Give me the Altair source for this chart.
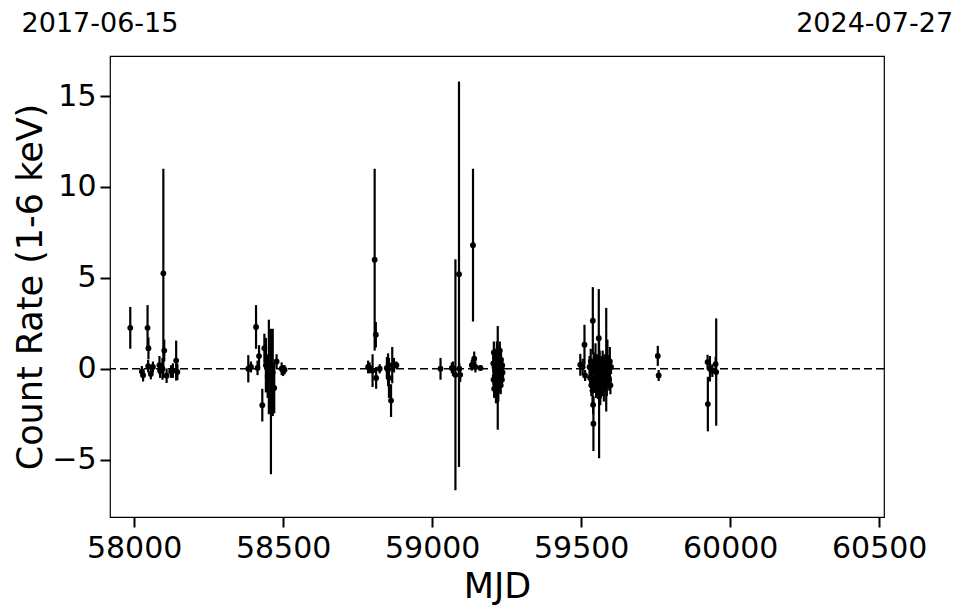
import altair as alt
import pandas as pd

# ---- data (MJD, count rate, 1-sigma error) ----
mjd = [
    57987, 58026, 58030, 58045, 58048, 58047, 58056, 58063, 58085, 58087, 58095,
    58098, 58101, 58109, 58124, 58130, 58141, 58145,
    58383, 58392, 58409, 58419, 58414, 58430, 58437, 58442, 58448, 58452, 58459,
    58465, 58470, 58478, 58495, 58500, 58505,
    58785, 58790, 58800, 58807, 58811, 58812, 58824, 58848, 58852, 58855, 58862,
    58866, 58872, 58880,
    59028, 59066, 59070, 59078, 59090, 59091, 59094, 59133, 59137, 59141, 59145,
    59162,
    59205, 59206, 59207, 59208, 59209, 59210, 59211, 59212, 59213, 59214, 59215,
    59216, 59217, 59218, 59219, 59220, 59221, 59222, 59223, 59224, 59225, 59226,
    59227, 59228, 59229, 59230, 59231, 59232, 59233, 59234, 59235, 59236,
    59497, 59505, 59511, 59513, 59539, 59540, 59541, 59559, 59560, 59584,
    59528, 59530, 59532, 59534, 59536, 59538, 59542, 59544, 59546, 59548, 59550,
    59552, 59554, 59556, 59558, 59562, 59564, 59566, 59568, 59570, 59572, 59574,
    59576, 59578, 59580, 59582, 59586, 59588, 59590, 59592, 59594, 59596, 59598,
    59600,
    59757, 59760, 59924, 59925, 59932, 59940, 59951, 59953,
]
rate = [
    2.25, -0.15, -0.35, 2.25, 1.13, 0.15, -0.28, 0.10, 0.20, -0.10, 0.00,
    5.25, 1.00, -0.38, -0.15, -0.10, 0.45, -0.17,
    0.00, 0.10, 2.30, 0.70, 0.05, -2.00, 1.13, 0.20, -0.40, 0.10, -1.80,
    -0.20, -1.05, 0.40, 0.00, -0.10, -0.05,
    0.10, 0.05, -0.10, 6.00, 1.87, -0.50, 0.00, 0.05, -0.05, -0.50, -1.75,
    0.20, 0.20, 0.20,
    0.00, 0.05, 0.00, -0.33, 5.20, 0.00, -0.33, 0.20, 6.80, 0.55, 0.10,
    0.05,
    0.3, -0.6, 0.9, -1.1, 0.1, -0.4, 0.6, -0.8, 0.2, -1.4, 0.5,
    -0.2, 0.8, -0.9, 0.0, -0.5, 0.4, -1.2, 0.7, -0.3, 0.2, -0.7,
    1.0, -0.1, 0.3, -0.9, 0.5, -0.4, 0.1, -0.6, 0.2, -0.2,
    0.22, 0.10, 1.32, -0.37, 2.64, -1.98, -3.02, 1.68, -1.52, 0.50,
    0.1, -0.5, 0.4, -0.9, 0.0, -1.2, 0.3, -0.6, -0.2, 0.6, -1.0,
    -0.3, 0.2, -0.8, -0.1, 0.4, -1.3, -0.4, 0.1, -0.7, 0.5, -0.2,
    -1.1, 0.3, -0.5, 0.0, -0.8, 0.6, -0.3, 0.2, -0.6, 0.4, -0.9,
    0.1,
    0.71, -0.37, 0.37, -1.94, 0.00, -0.10, 0.26, -0.18,
]
err = [
    1.15, 0.30, 0.35, 1.25, 0.60, 0.35, 0.30, 0.30, 0.50, 0.40, 0.60,
    5.75, 0.60, 0.40, 0.35, 0.40, 1.10, 0.45,
    0.75, 0.30, 1.20, 0.60, 0.40, 0.90, 0.80, 1.50, 1.20, 2.60, 4.00,
    2.40, 1.40, 0.40, 0.35, 0.30, 0.25,
    0.35, 0.30, 0.90, 5.00, 0.70, 0.60, 0.25, 0.60, 0.90, 1.10, 0.90,
    1.00, 0.40, 0.20,
    0.60, 0.30, 0.40, 6.35, 10.60, 0.30, 0.40, 0.30, 4.20, 0.40, 0.30,
    0.15,
    0.5, 0.5, 0.6, 0.5, 0.4, 0.6, 0.5, 0.6, 0.4, 0.5, 0.6,
    0.5, 0.7, 0.5, 0.4, 2.85, 0.5, 0.6, 0.5, 0.4, 0.6, 0.5,
    0.5, 0.4, 0.6, 0.5, 0.4, 0.5, 0.3, 0.4, 0.3, 0.3,
    0.60, 0.45, 1.10, 0.30, 1.85, 0.50, 1.50, 2.70, 3.40, 2.85,
    0.6, 0.5, 0.7, 0.6, 0.5, 0.8, 0.6, 0.7, 0.5, 0.8, 0.6,
    0.5, 0.6, 0.7, 0.5, 0.6, 0.7, 0.5, 0.6, 0.8, 0.5, 0.6,
    0.7, 0.5, 0.6, 0.5, 0.7, 1.0, 0.6, 0.5, 0.6, 0.8, 0.5,
    0.4,
    0.55, 0.30, 0.40, 1.50, 0.70, 0.35, 0.40, 2.95,
]

x_ticks = [58000, 58500, 59000, 59500, 60000, 60500]
y_ticks = [-5, 0, 5, 10, 15]
date_mjd = [57919, 60518]
date_label = ["2017-06-15", "2024-07-27"]

df = pd.DataFrame({"mjd": mjd, "rate": rate, "err": err})
df["lo"] = df["rate"] - df["err"]
df["hi"] = df["rate"] + df["err"]

FONT = "DejaVu Sans"
xscale = alt.Scale(domain=[57919, 60516], nice=False, zero=False)
yscale = alt.Scale(domain=[-8.15, 17.2], nice=False, zero=False)

xaxis = alt.Axis(title="MJD", values=x_ticks, format="d", grid=False,
                 titleFontSize=35, labelFontSize=30, titleFontWeight="normal",
                 tickSize=10, tickWidth=2, labelPadding=6, titlePadding=6,
                 domain=False, labelFont=FONT, titleFont=FONT,
                 labelColor="black", titleColor="black", tickColor="black")
yaxis = alt.Axis(title="Count Rate (1-6 keV)", values=y_ticks, grid=False,
                 titleFontSize=35, labelFontSize=30, titleFontWeight="normal",
                 tickSize=10, tickWidth=2, labelPadding=4, titlePadding=3,
                 domain=False, labelFont=FONT, titleFont=FONT,
                 labelColor="black", titleColor="black", tickColor="black")

base = alt.Chart(df)

bars = base.mark_rule(color="black", strokeWidth=2.2).encode(
    x=alt.X("mjd:Q", scale=xscale, axis=xaxis),
    y=alt.Y("lo:Q", scale=yscale, axis=yaxis),
    y2="hi:Q",
)
points = base.mark_circle(color="black", size=34, opacity=1).encode(
    x=alt.X("mjd:Q", scale=xscale),
    y=alt.Y("rate:Q", scale=yscale),
)
zero = alt.Chart(pd.DataFrame({"z": [0]})).mark_rule(
    color="black", strokeDash=[8, 4], strokeWidth=1.5
).encode(y=alt.Y("z:Q", scale=yscale))

dates = alt.Chart(pd.DataFrame({"m": date_mjd, "t": date_label})).mark_text(
    fontSize=27, font=FONT, color="black", baseline="middle", dx=-10
).encode(
    x=alt.X("m:Q", scale=xscale),
    y=alt.value(-32),
    text="t:N",
)

chart = alt.layer(zero, bars, points, dates).properties(
    width=774, height=461,
    autosize=alt.AutoSizeParams(type="none"),
    padding={"left": 102, "top": 48, "right": 70, "bottom": 88},
).configure(background="white").configure_view(stroke="black", strokeWidth=1.2)

chart.save("out.html", embed_options={"renderer": "svg", "actions": False})
